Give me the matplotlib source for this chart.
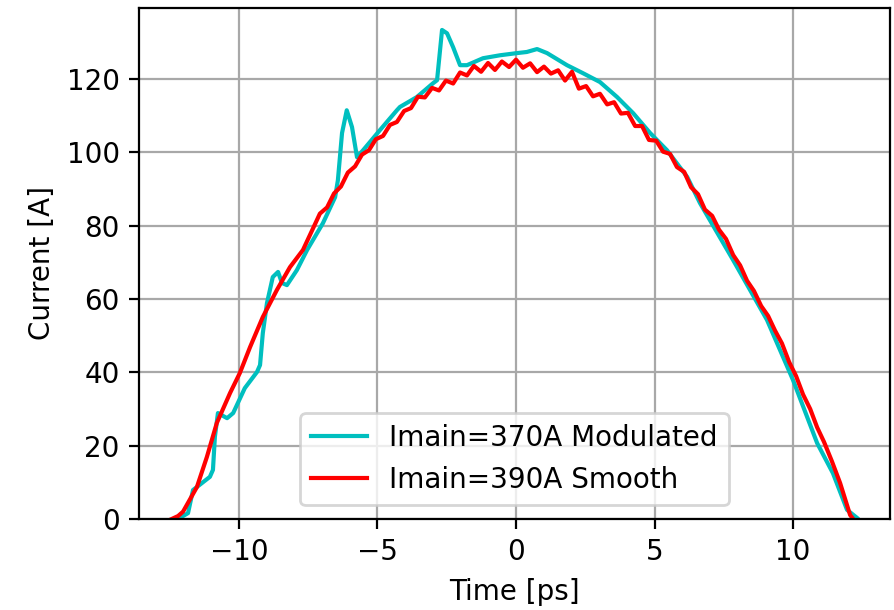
import numpy as np
import matplotlib
matplotlib.use("Agg")
import matplotlib.pyplot as plt

# Imain=370A Modulated
t_mod = [-12.20, -11.84, -11.66, -11.05, -10.94, -10.87, -10.76, -10.43, -10.21,
         -9.79, -9.35, -9.24, -9.14, -8.99, -8.78, -8.59, -8.45, -8.27, -7.91,
         -7.54, -6.97, -6.53, -6.43, -6.28, -6.11, -5.92, -5.74, -5.52, -4.91,
         -4.30, -4.19, -3.58, -2.99, -2.85, -2.67, -2.49, -2.27, -2.02, -1.77,
         -1.19, -0.58, 0.04, 0.39, 0.76, 1.12, 1.84, 2.42, 3.03, 3.65, 4.23,
         4.84, 5.45, 6.18, 6.64, 7.84, 9.06, 10.00, 10.87, 11.44, 11.95, 12.31]
i_mod = [0.0, 1.6, 7.9, 11.5, 13.4, 22.4, 28.9, 27.5, 28.9,
         35.7, 40.1, 42.0, 50.7, 58.9, 66.0, 67.4, 64.4, 63.8, 67.9,
         73.4, 80.7, 87.8, 92.4, 105.3, 111.5, 106.9, 98.7, 100.6, 106.1,
         111.5, 112.4, 115.1, 118.9, 119.7, 133.4, 132.5, 128.7, 123.8, 123.8,
         125.7, 126.5, 127.1, 127.4, 128.2, 127.1, 123.8, 121.6, 119.2, 115.1, 110.7,
         105.3, 100.6, 93.3, 86.2, 70.6, 54.3, 37.9, 20.7, 12.5, 2.5, 0.3]

# Imain=390A Smooth (ripple included)
t_smooth = [-12.43, -12.20, -12.02, -11.52, -11.16, -10.80, -10.32, -9.97, -9.60,
            -9.14, -8.63, -8.16, -7.69, -7.19,
            -7.08, -6.82, -6.57, -6.32, -6.07, -5.81, -5.56, -5.31, -5.06, -4.80,
            -4.55, -4.30, -4.04, -3.79, -3.54, -3.29, -3.03, -2.78, -2.53, -2.27,
            -2.02, -1.77, -1.52, -1.26, -1.01, -0.76, -0.51, -0.25, 0.00, 0.25,
            0.51, 0.76, 1.01, 1.26, 1.52, 1.77, 2.02, 2.27, 2.53, 2.78,
            3.03, 3.29, 3.54, 3.79, 4.04, 4.30, 4.55, 4.80, 5.06, 5.31,
            5.56, 5.81, 6.07, 6.32, 6.57, 6.82, 7.08, 7.33, 7.58, 7.84,
            8.09, 8.34, 8.59, 8.85, 9.10, 9.35, 9.60, 9.86, 10.11, 10.36,
            10.62, 10.87, 11.12, 11.40, 11.70, 12.06, 12.17]
i_smooth = [0.0, 0.8, 2.0, 8.7, 16.9, 26.2, 34.4, 39.8, 46.9,
            55.1, 62.5, 68.7, 73.4, 81.5,
            83.3, 85.0, 88.8, 90.7, 94.5, 96.2, 99.4, 100.6, 103.6, 104.5,
            107.5, 108.3, 111.3, 112.1, 115.2, 115.0, 117.6, 116.9, 119.6, 118.8,
            121.8, 121.0, 123.6, 122.0, 124.4, 122.5, 124.8, 123.3, 125.3, 123.1,
            124.3, 121.9, 123.4, 121.5, 122.4, 119.6, 122.0, 117.4, 118.1, 115.3,
            116.0, 113.1, 113.7, 110.6, 110.8, 107.2, 107.2, 103.4, 103.2, 100.2,
            99.6, 96.0, 94.7, 90.5, 88.6, 84.4, 82.7, 78.9, 76.4, 72.0,
            69.2, 65.0, 62.2, 58.1, 55.4, 51.4, 47.9, 42.8, 39.0, 34.0,
            30.0, 25.0, 21.0, 15.8, 9.8, 1.1, 0.0]

fig = plt.figure(figsize=(4.475, 3.05), dpi=200)
ax = fig.add_axes([0.1556, 0.1492, 0.8388, 0.8377])

ax.plot(t_mod, i_mod, color="c", lw=1.5, label="Imain=370A Modulated")
ax.plot(t_smooth, i_smooth, color="r", lw=1.5, label="Imain=390A Smooth")

ax.set_xlim(-13.6, 13.5)
ax.set_ylim(0, 139.4)
ax.set_xlabel("Time [ps]")
ax.set_ylabel("Current [A]")
ax.grid(True, color="#a8a8a8")
ax.legend(loc="lower center")

fig.savefig("out.png", dpi=200)
